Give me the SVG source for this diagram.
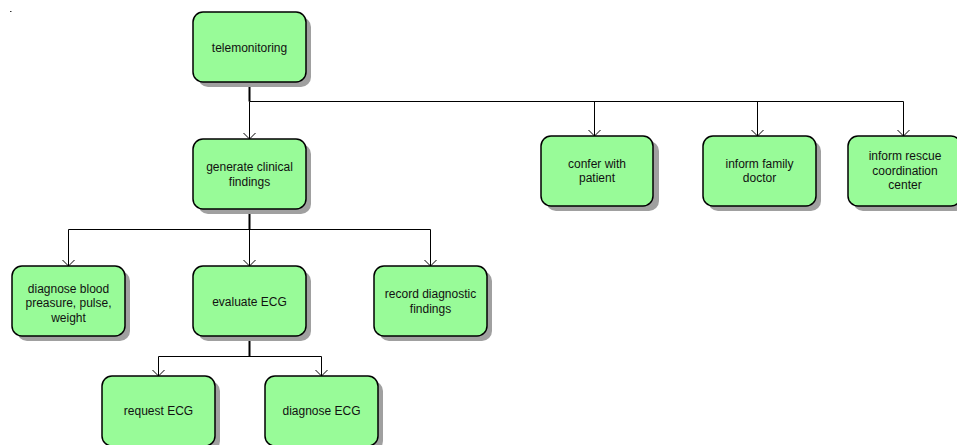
<svg xmlns="http://www.w3.org/2000/svg" width="957" height="445" viewBox="0 0 957 445">
<defs>
<filter id="sh" x="-10%" y="-10%" width="130%" height="130%"><feGaussianBlur stdDeviation="0.7"/></filter>
<marker id="arr" viewBox="0 0 10 14" refX="9" refY="7" markerWidth="10" markerHeight="14" markerUnits="userSpaceOnUse" orient="auto">
<path d="M3,1 L9,7 L3,13" fill="none" stroke="#000" stroke-width="1"/>
</marker>
</defs>
<style>
.shadow{fill:#a0a0a0;filter:url(#sh)}
.box{fill:#98fb98;stroke:#000;stroke-width:1.5}
.t{font-family:"Liberation Sans",Arial,sans-serif;font-size:12px;fill:#111;text-anchor:middle}
.trunk{stroke:#000;stroke-width:2;fill:none}
.br{stroke:#000;stroke-width:1;fill:none}
</style>
<rect x="10" y="11" width="1.5" height="1" fill="#333"/>
<g id="connectors">
<path class="trunk" d="M249.5,82 V101.5"/>
<path class="br" d="M249.5,101.5 H903.5"/>
<path class="br" d="M249.5,101.5 V139" marker-end="url(#arr)"/>
<path class="br" d="M594.5,101.5 V136" marker-end="url(#arr)"/>
<path class="br" d="M757.5,101.5 V136" marker-end="url(#arr)"/>
<path class="br" d="M903.5,101.5 V136" marker-end="url(#arr)"/>
<path class="trunk" d="M249.5,209 V229.5"/>
<path class="br" d="M68.5,229.5 H430.5"/>
<path class="br" d="M68.5,229.5 V266" marker-end="url(#arr)"/>
<path class="br" d="M249.5,229.5 V266" marker-end="url(#arr)"/>
<path class="br" d="M430.5,229.5 V266" marker-end="url(#arr)"/>
<path class="trunk" d="M249.5,336 V356.5"/>
<path class="br" d="M158.5,356.5 H321.5"/>
<path class="br" d="M158.5,356.5 V376" marker-end="url(#arr)"/>
<path class="br" d="M321.5,356.5 V376" marker-end="url(#arr)"/>
</g>
<g id="telemonitoring">
<rect class="shadow" x="198" y="17" width="113" height="70" rx="10"/>
<rect class="box" x="193" y="12" width="113" height="70" rx="10"/>
<text class="t" x="249.5" y="51.5">telemonitoring</text>
</g>
<g id="generate-clinical-findings">
<rect class="shadow" x="198" y="144" width="113" height="70" rx="10"/>
<rect class="box" x="193" y="139" width="113" height="70" rx="10"/>
<text class="t" x="249.5" y="171">generate clinical</text>
<text class="t" x="249.5" y="185.5">findings</text>
</g>
<g id="confer-with-patient">
<rect class="shadow" x="546" y="141" width="113" height="70" rx="10"/>
<rect class="box" x="541" y="136" width="112" height="70" rx="10"/>
<text class="t" x="597" y="167.5">confer with</text>
<text class="t" x="597" y="182">patient</text>
</g>
<g id="inform-family-doctor">
<rect class="shadow" x="708" y="141" width="113" height="70" rx="10"/>
<rect class="box" x="703" y="136" width="113" height="70" rx="10"/>
<text class="t" x="759.5" y="167.5">inform family</text>
<text class="t" x="759.5" y="182">doctor</text>
</g>
<g id="inform-rescue-coordination-center">
<rect class="shadow" x="853" y="141" width="113" height="70" rx="10"/>
<rect class="box" x="848" y="136" width="113" height="70" rx="10"/>
<text class="t" x="905" y="160">inform rescue</text>
<text class="t" x="905" y="174.5">coordination</text>
<text class="t" x="905" y="189">center</text>
</g>
<g id="diagnose-blood-preasure">
<rect class="shadow" x="17" y="271" width="113" height="70" rx="10"/>
<rect class="box" x="12" y="266" width="113" height="70" rx="10"/>
<text class="t" x="68.5" y="292.5">diagnose blood</text>
<text class="t" x="68.5" y="307">preasure, pulse,</text>
<text class="t" x="68.5" y="321.5">weight</text>
</g>
<g id="evaluate-ecg">
<rect class="shadow" x="198" y="271" width="113" height="70" rx="10"/>
<rect class="box" x="193" y="266" width="113" height="70" rx="10"/>
<text class="t" x="249.5" y="305.5">evaluate ECG</text>
</g>
<g id="record-diagnostic-findings">
<rect class="shadow" x="379" y="271" width="113" height="70" rx="10"/>
<rect class="box" x="374" y="266" width="113" height="70" rx="10"/>
<text class="t" x="430.5" y="298">record diagnostic</text>
<text class="t" x="430.5" y="312.5">findings</text>
</g>
<g id="request-ecg">
<rect class="shadow" x="107" y="381" width="113" height="70" rx="10"/>
<rect class="box" x="102" y="376" width="113" height="70" rx="10"/>
<text class="t" x="158.5" y="415">request ECG</text>
</g>
<g id="diagnose-ecg">
<rect class="shadow" x="270" y="381" width="113" height="70" rx="10"/>
<rect class="box" x="265" y="376" width="113" height="70" rx="10"/>
<text class="t" x="321.5" y="415">diagnose ECG</text>
</g>
</svg>
